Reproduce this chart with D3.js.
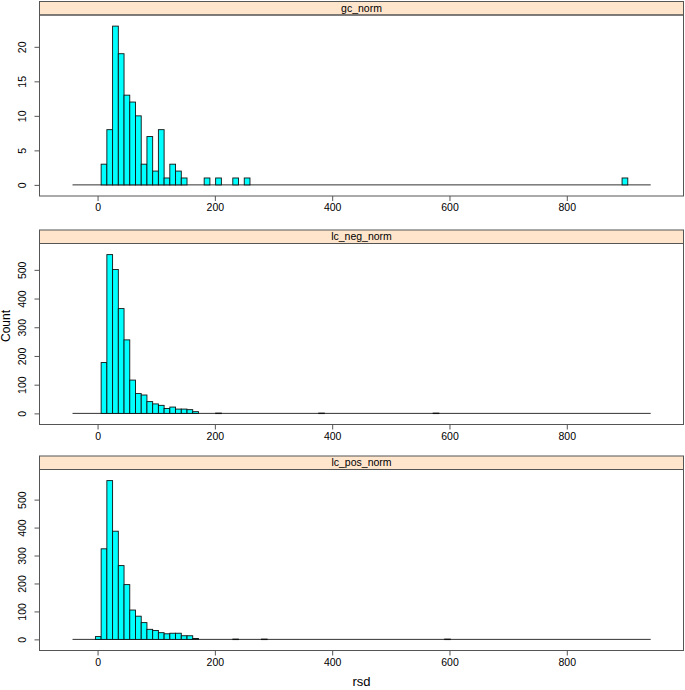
<!DOCTYPE html>
<html>
<head>
<meta charset="utf-8">
<script src="https://cdn.jsdelivr.net/npm/d3@7"></script>
<style>
  html, body { margin: 0; padding: 0; background: #fff; }
  svg { display: block; }
  text { font-family: "Liberation Sans", Arial, sans-serif; }
</style>
</head>
<body>
<div id="chart"></div>
<script>
// ---------------- data ----------------
const panelNames = ["gc_norm", "lc_neg_norm", "lc_pos_norm"];

// histogram breaks (rsd units)
const binStart = -42.7;
const binWidth = 9.76;
const binCount = 101;

// gc_norm
const gcFirstBin = 5;
const gcCounts = [3, 8, 23, 19, 13, 12, 10, 3, 7, 2, 8, 1, 3, 2, 1];
const gcExtraBins = [23, 25, 28, 30, 96];
const gcExtraCounts = [1, 1, 1, 1, 1];

// lc_neg_norm
const negFirstBin = 5;
const negCounts = [177, 553, 501, 365, 256, 116, 69, 64, 41, 33, 28, 17, 22, 15, 15, 13, 6];
const negExtraBins = [25, 43, 63];
const negExtraCounts = [1, 1, 1];

// lc_pos_norm
const posFirstBin = 4;
const posCounts = [10, 324, 568, 387, 264, 196, 105, 83, 60, 36, 32, 24, 20, 22, 22, 13, 13, 3];
const posExtraBins = [28, 33, 65];
const posExtraCounts = [1, 1, 1];

const xTicks = [0, 200, 400, 600, 800];
const yTicksGc = [0, 5, 10, 15, 20];
const yTicksLc = [0, 100, 200, 300, 400, 500];

const xLabel = "rsd";
const yLabel = "Count";

// ---------------- build ----------------
function buildCounts(firstBin, counts, extraBins, extraCounts) {
  const arr = new Array(binCount).fill(0);
  counts.forEach((c, i) => { arr[firstBin + i] = c; });
  extraBins.forEach((b, i) => { arr[b] = extraCounts[i]; });
  return arr.map((c, i) => ({
    x0: binStart + i * binWidth,
    x1: binStart + (i + 1) * binWidth,
    count: c
  }));
}

const panels = [
  { name: panelNames[0], bins: buildCounts(gcFirstBin, gcCounts, gcExtraBins, gcExtraCounts), yTicks: yTicksGc },
  { name: panelNames[1], bins: buildCounts(negFirstBin, negCounts, negExtraBins, negExtraCounts), yTicks: yTicksLc },
  { name: panelNames[2], bins: buildCounts(posFirstBin, posCounts, posExtraBins, posExtraCounts), yTicks: yTicksLc }
];

const W = 685, H = 690;
const left = 39.5, right = 683.5;
const stripTops = [1.5, 230, 456];
const stripH = 13.5;
const plotH = 181;
const boxColor = "#555";

const svg = d3.select("#chart").append("svg")
  .attr("width", W).attr("height", H);

const x = d3.scaleLinear().domain([-99, 999]).range([left, right]);

panels.forEach((p, i) => {
  const sTop = stripTops[i];
  const pTop = sTop + stripH;
  const pBot = pTop + plotH;
  const maxC = d3.max(p.bins, d => d.count);
  const ext = 0.07 * maxC;
  const y = d3.scaleLinear().domain([-ext, maxC + ext]).range([pBot, pTop]);

  const g = svg.append("g");

  // strip
  g.append("rect")
    .attr("x", left).attr("y", sTop)
    .attr("width", right - left).attr("height", stripH)
    .attr("fill", "#ffe5cc").attr("stroke", boxColor).attr("stroke-width", 1);
  g.append("text")
    .attr("x", (left + right) / 2).attr("y", sTop + stripH / 2 + 0.5)
    .attr("text-anchor", "middle").attr("dominant-baseline", "middle")
    .attr("font-size", 10.5).attr("fill", "#000")
    .text(p.name);

  // baseline across breaks range
  g.append("line")
    .attr("x1", x(binStart)).attr("x2", x(binStart + binCount * binWidth))
    .attr("y1", y(0)).attr("y2", y(0))
    .attr("stroke", "#333").attr("stroke-width", 1);

  // bars
  g.selectAll("rect.bar")
    .data(p.bins.filter(d => d.count > 0))
    .join("rect")
    .attr("class", "bar")
    .attr("x", d => x(d.x0))
    .attr("width", d => x(d.x1) - x(d.x0))
    .attr("y", d => y(d.count))
    .attr("height", d => Math.max(0.5, y(0) - y(d.count)))
    .attr("fill", "#00ffff")
    .attr("stroke", "#111").attr("stroke-width", 0.9);

  // panel box
  g.append("rect")
    .attr("x", left).attr("y", pTop)
    .attr("width", right - left).attr("height", plotH)
    .attr("fill", "none").attr("stroke", boxColor).attr("stroke-width", 1);

  // x axis
  const xa = g.append("g").attr("transform", `translate(0,${pBot})`)
    .call(d3.axisBottom(x).tickValues(xTicks).tickSize(5).tickPadding(3).tickFormat(d3.format("d")));
  xa.select(".domain").remove();
  xa.selectAll("line").attr("stroke", boxColor);
  xa.selectAll("text").attr("font-size", 10.5).attr("fill", "#000")
    .attr("font-family", "Liberation Sans, Arial, sans-serif");

  // y axis
  const ya = g.append("g").attr("transform", `translate(${left},0)`)
    .call(d3.axisLeft(y).tickValues(p.yTicks).tickSize(5).tickPadding(0).tickFormat(d3.format("d")));
  ya.select(".domain").remove();
  ya.selectAll("line").attr("stroke", boxColor);
  ya.selectAll("text")
    .attr("font-size", 10.5).attr("fill", "#000")
    .attr("font-family", "Liberation Sans, Arial, sans-serif")
    .attr("x", null).attr("dy", null)
    .attr("text-anchor", "middle")
    .attr("transform", "translate(-16,0) rotate(-90)")
    .attr("dominant-baseline", "middle");
});

// axis titles
svg.append("text")
  .attr("x", (left + right) / 2).attr("y", 683)
  .attr("text-anchor", "middle").attr("dominant-baseline", "middle")
  .attr("font-size", 13).attr("fill", "#000")
  .text(xLabel);

svg.append("text")
  .attr("transform", `translate(7,${(stripTops[0] + stripTops[2] + stripH + plotH) / 2}) rotate(-90)`)
  .attr("text-anchor", "middle").attr("dominant-baseline", "middle")
  .attr("font-size", 12).attr("fill", "#000")
  .text(yLabel);
</script>
</body>
</html>
